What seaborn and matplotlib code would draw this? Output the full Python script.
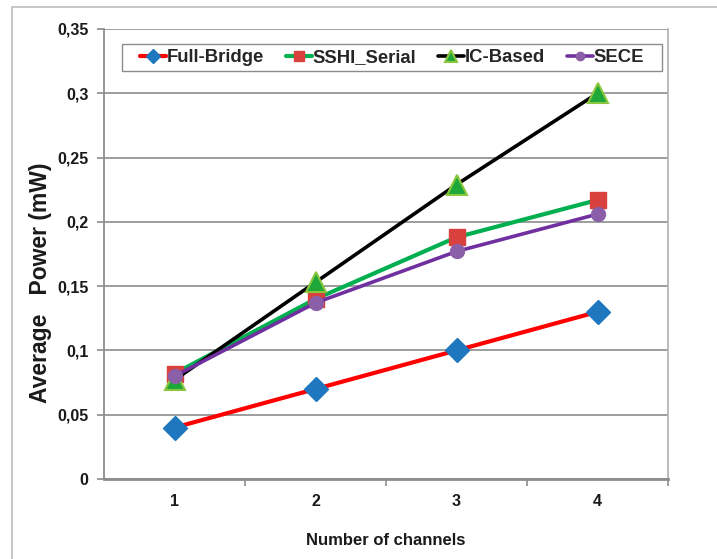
import matplotlib
matplotlib.use("Agg")
import matplotlib.pyplot as plt
import seaborn as sns
import pandas as pd
from matplotlib.patches import Rectangle
from matplotlib.ticker import FixedLocator, FuncFormatter

channels = ["1", "2", "3", "4"]
full_bridge = [0.040, 0.070, 0.100, 0.130]
sshi_serial = [0.082, 0.140, 0.188, 0.217]
ic_based = [0.077, 0.153, 0.229, 0.300]
sece = [0.080, 0.137, 0.177, 0.206]
series_names = ["Full-Bridge", "SSHI_Serial", "IC-Based", "SECE"]
y_ticks = [0, 0.05, 0.1, 0.15, 0.2, 0.25, 0.3, 0.35]

sns.set_theme(style="white")
plt.rcParams["font.family"] = ["Liberation Sans", "DejaVu Sans"]

fig = plt.figure(figsize=(7.17, 5.59), dpi=100)
ax = fig.add_axes([104 / 717, 1 - 479 / 559, (668 - 104) / 717, (479 - 29) / 559])

# figure frame
fig.patches.append(Rectangle((12 / 717, -0.1), 1.5, 1 - 7 / 559 + 0.1,
                             transform=fig.transFigure, fill=False,
                             edgecolor="#bdbdbd", linewidth=1.2, zorder=0))

styles = {
    "Full-Bridge": dict(color="#ff0000", marker="D", mfc="#1f77c0", mec="#1f77c0", ms=12, lw=3.0, mew=1),
    "SSHI_Serial": dict(color="#00b050", marker="s", mfc="#d9413f", mec="#d9413f", ms=11, lw=3.0, mew=1),
    "IC-Based": dict(color="#000000", marker="^", mfc="#1fa83a", mec="#8cc63f", ms=14, lw=2.6, mew=1.5),
    "SECE": dict(color="#7030a0", marker="o", mfc="#8a5fa8", mec="#8a5fa8", ms=10, lw=2.6, mew=1),
}

data = {"Full-Bridge": full_bridge, "SSHI_Serial": sshi_serial,
        "IC-Based": ic_based, "SECE": sece}

xpos = list(range(len(channels)))
for i, name in enumerate(series_names):
    df = pd.DataFrame({"x": xpos, "y": data[name]})
    st = styles[name]
    sns.lineplot(data=df, x="x", y="y", ax=ax, color=st["color"], linewidth=st["lw"],
                 marker=st["marker"], markerfacecolor=st["mfc"], markeredgecolor=st["mec"],
                 markersize=st["ms"], markeredgewidth=st["mew"], label=name, zorder=3 + i)

ax.set_xlim(-0.5, 3.5)
ax.set_ylim(0, 0.35)
ax.set_xticks(xpos)
ax.set_xticklabels(channels)
ax.xaxis.set_minor_locator(FixedLocator([0.5, 1.5, 2.5, 3.5]))
ax.set_yticks(y_ticks)
ax.yaxis.set_major_formatter(FuncFormatter(lambda v, p: ("%g" % v).replace(".", ",")))

ax.grid(axis="y", color="#8c8c8c", linewidth=1.2)
ax.set_axisbelow(True)
ax.spines["top"].set_visible(False)
ax.spines["left"].set_color("#8c8c8c")
ax.spines["left"].set_linewidth(1.3)
ax.spines["right"].set_color("#b5b5b5")
ax.spines["right"].set_linewidth(1.3)
ax.spines["bottom"].set_color("#8c8c8c")
ax.spines["bottom"].set_linewidth(2.0)

ax.tick_params(axis="y", which="major", left=True, length=5, width=1.2, color="#8c8c8c",
               labelsize=11.5, pad=6)
ax.tick_params(axis="x", which="major", bottom=False, labelsize=11.5, pad=5)
ax.tick_params(axis="x", which="minor", bottom=True, length=5, width=1.2, color="#8c8c8c")
for lab in ax.get_xticklabels() + ax.get_yticklabels():
    lab.set_fontweight("bold")
    lab.set_color("#1a1a1a")

ax.set_xlabel("Number of channels", fontsize=12, fontweight="bold", labelpad=17, color="#1a1a1a")
ax.set_ylabel("Average   Power (mW)", fontsize=16.5, fontweight="bold", color="#1a1a1a")
ax.yaxis.set_label_coords(-0.093, (479 - 283) / 450)

# legend box (frame drawn separately for asymmetric padding control)
ax.add_patch(Rectangle(((122 - 104) / 564, (479 - 71) / 450), (662 - 122) / 564, 27 / 450,
                       transform=ax.transAxes, facecolor="white", edgecolor="#8c8c8c",
                       linewidth=1.0, zorder=10))
leg = ax.legend(loc="center", bbox_to_anchor=((392 - 104) / 564, (479 - 57.5) / 450),
                ncol=4, frameon=False,
                prop={"weight": "bold", "size": 13.3}, handlelength=1.42,
                handletextpad=0.02, columnspacing=1.2, borderpad=0.0,
                markerscale=0.6, borderaxespad=0)
leg.set_zorder(11)

fig.savefig("out.png", dpi=100)
